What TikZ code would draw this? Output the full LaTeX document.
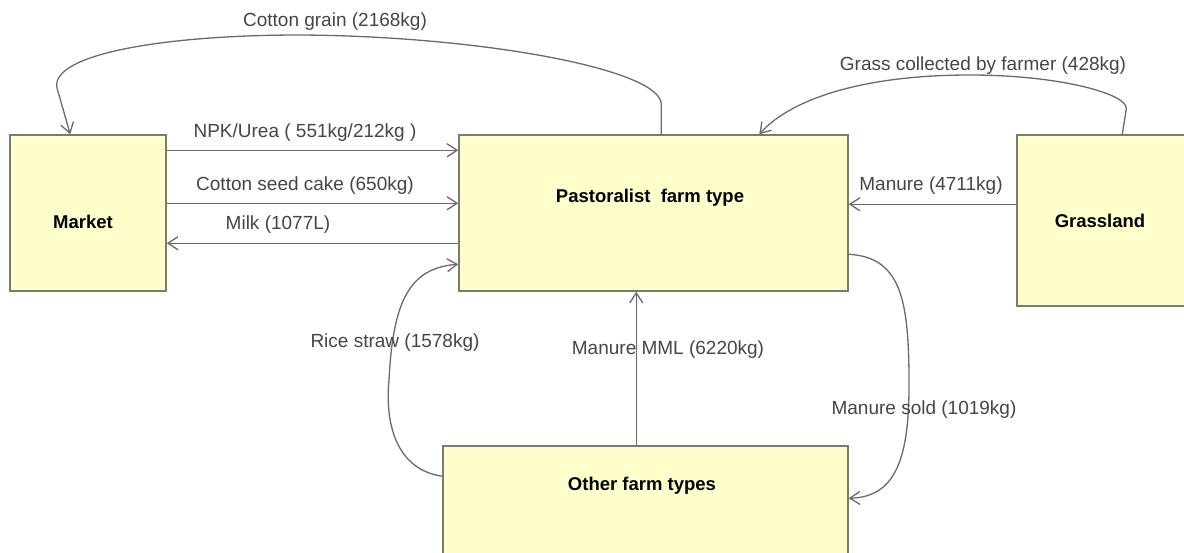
\documentclass[tikz,border=0pt]{standalone}
\usepackage{fontspec}
\setmainfont{Liberation Sans}
\usetikzlibrary{arrows.meta,calc}
\definecolor{boxfill}{HTML}{FFFFCC}
\definecolor{boxline}{HTML}{7A7A6E}
\definecolor{flowline}{HTML}{6A6A6A}
\definecolor{flowtext}{HTML}{454545}

\begin{document}
\begin{tikzpicture}[x=1pt,y=-1pt,
  box/.style={draw=boxline, fill=boxfill, line width=1.5pt, rectangle, inner sep=0pt},
  boxtext/.style={font=\fontsize{18.5}{22}\selectfont\bfseries, text=black},
  flow/.style={draw=flowline, line width=1.3pt, -{Straight Barb[length=10pt,width=13pt]}},
  flowlabel/.style={font=\fontsize{19}{23}\selectfont, text=flowtext, inner sep=0pt}]
\useasboundingbox (0,0) rectangle (1184,552);
\clip (0,0) rectangle (1184,552);

% farm compartments
\node[box, minimum width=156pt, minimum height=156pt,
      label={[boxtext, xshift=-5pt, yshift=-9pt]center:Market}] (M) at (88,213) {};
\node[box, minimum width=389pt, minimum height=156pt,
      label={[boxtext, xshift=-3.5pt, yshift=15pt]center:Pastoralist\ \ farm type}] (P) at (653.5,213) {};
\node[box, minimum width=183pt, minimum height=171pt,
      label={[boxtext, xshift=-8.5pt]center:Grassland}] (G) at (1108.5,220.5) {};
\node[box, minimum width=405pt, minimum height=134pt,
      label={[boxtext, xshift=-3.5pt, yshift=27pt]center:Other farm types}] (O) at (645.5,513) {};

% straight flows
\draw[flow] ($(M.north east)+(0,16)$) -- ($(P.north west)+(0,16)$);
\draw[flow] ($(M.north east)+(0,69)$) -- ($(P.north west)+(0,69)$);
\draw[flow] ($(P.north west)+(0,109)$) -- ($(M.north east)+(0,109)$);
\draw[flow] ($(G.north west)+(0,70)$) -- ($(P.north east)+(0,70)$);
\draw[flow] ($(O.north west)+(194,0)$) -- ($(P.south west)+(178,0)$);

% curved flows
\draw[flow] ($(P.north west)+(203,0)$) -- ++(0,-30)
  .. controls +(0,-35) and (480,36) .. (300,35)
  .. controls (160,35) and (50,55) .. (57,88)
  -- ($(M.north west)+(61,0)$);
\draw[flow] ($(G.north west)+(106,0)$) -- ++(4,-25)
  .. controls +(3,-15) and (1060,75) .. (970,75)
  .. controls (860,75) and (790,100) .. ($(P.north west)+(301,0)$);
\draw[flow] ($(O.north west)+(0,31)$)
  .. controls +(-48,-7) and (385,420) .. (389,380)
  .. controls (393,300) and (410,268) .. ($(P.north west)+(0,130)$);
\draw[flow] ($(P.north east)+(0,120)$)
  .. controls +(52,3) and (908,300) .. (909,373)
  .. controls (910,450) and (900,497) .. ($(O.north east)+(0,53)$);

% flow labels
\node[flowlabel] (lcg)  at (335,22)  {Cotton grain (2168kg)};
\node[flowlabel] (lnpk) at (305,133) {NPK/Urea ( 551kg/212kg )};
\node[flowlabel] (lcsc) at (305,186) {Cotton seed cake (650kg)};
\node[flowlabel] (lmk)  at (278,225) {Milk (1077L)};
\node[flowlabel] (lmg)  at (931,186) {Manure (4711kg)};
\node[flowlabel] (lgr)  at (983,66)  {Grass collected by farmer (428kg)};
\node[flowlabel] (lrs)  at (395,343) {Rice straw (1578kg)};
\node[flowlabel] (lmml) at (668,350) {Manure MML (6220kg)};
\node[flowlabel] (lms)  at (924,410) {Manure sold (1019kg)};
\end{tikzpicture}
\end{document}
